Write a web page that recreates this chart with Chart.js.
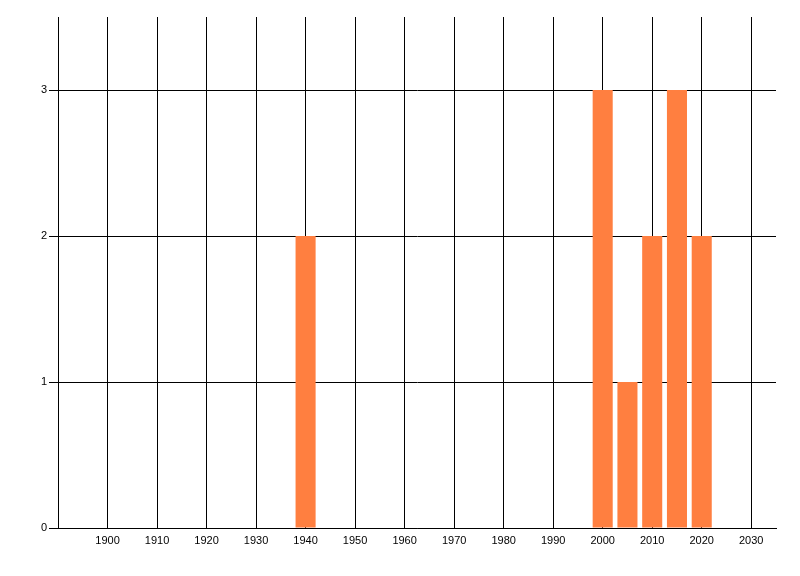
<!DOCTYPE html>
<html>
<head>
<meta charset="utf-8">
<script src="https://cdn.jsdelivr.net/npm/chart.js@4.4.0/dist/chart.umd.min.js"></script>
<style>
  html, body { margin: 0; padding: 0; background: #fff; }
  #wrap { width: 800px; height: 576px; }
</style>
</head>
<body>
<div id="wrap"><canvas id="countChart" width="800" height="576"></canvas></div>
<script>
// Data
const years = [1940, 2000, 2005, 2010, 2015, 2020];
const counts = [2, 3, 1, 2, 3, 2];
const xTickLabels = [1900, 1910, 1920, 1930, 1940, 1950, 1960, 1970, 1980, 1990, 2000, 2010, 2020, 2030];
const yTickLabels = [0, 1, 2, 3];

document.addEventListener('DOMContentLoaded', function() {
    const ctx = document.getElementById('countChart');
    const font = { family: 'Liberation Sans', size: 11 };

    new Chart(ctx, {
        type: 'bar',
        data: {
            datasets: [{
                data: years.map((y, i) => ({ x: y, y: counts[i] })),
                backgroundColor: 'rgb(255, 127, 64)',
                borderWidth: 0,
                barPercentage: 0.81,
                categoryPercentage: 1
            }]
        },
        options: {
            responsive: false,
            animation: false,
            devicePixelRatio: 1,
            layout: {
                padding: { top: 17, right: 24, left: 0, bottom: 0 }
            },
            plugins: {
                legend: { display: false },
                tooltip: { enabled: false }
            },
            scales: {
                x: {
                    type: 'linear',
                    min: 1890,
                    max: 2035,
                    offset: false,
                    afterFit: function(scale) { scale.height = 48; },
                    grid: {
                        offset: false,
                        color: '#000',
                        lineWidth: 1,
                        drawTicks: false,
                        tickLength: 0
                    },
                    border: { display: true, color: '#000', width: 1 },
                    ticks: {
                        stepSize: 10,
                        includeBounds: false,
                        autoSkip: false,
                        maxRotation: 0,
                        padding: 6,
                        color: '#000',
                        font: font,
                        callback: function(value) {
                            return xTickLabels.includes(value) ? String(value) : '';
                        }
                    }
                },
                y: {
                    min: 0,
                    max: 3.5,
                    afterFit: function(scale) { scale.width = 58; },
                    grid: {
                        color: '#000',
                        lineWidth: 1,
                        drawTicks: true,
                        tickLength: 9
                    },
                    border: { display: true, color: '#000', width: 1 },
                    ticks: {
                        stepSize: 1,
                        includeBounds: false,
                        padding: 2,
                        color: '#000',
                        font: font,
                        callback: function(value) {
                            return yTickLabels.includes(value) ? String(value) : '';
                        }
                    }
                }
            }
        }
    });
});
</script>
</body>
</html>
